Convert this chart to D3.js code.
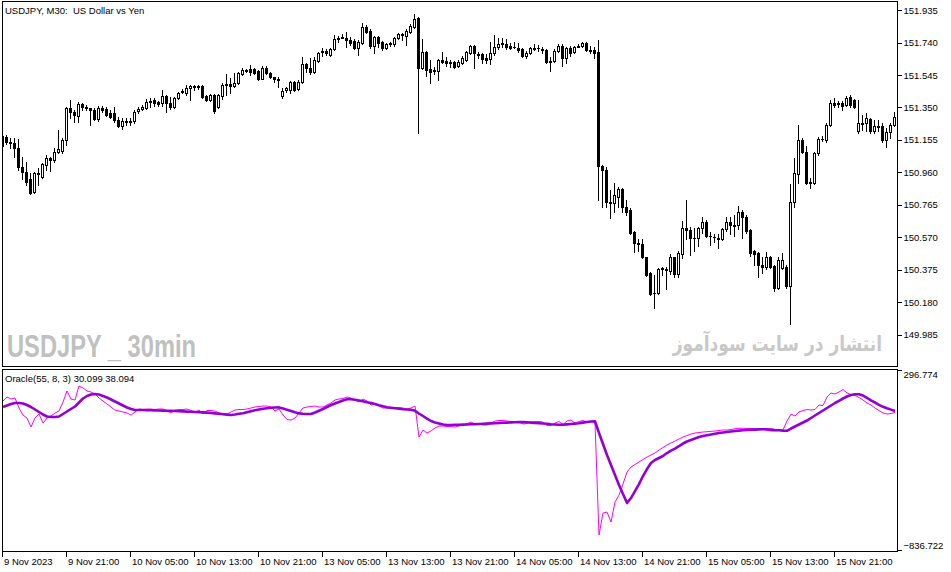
<!DOCTYPE html>
<html>
<head>
<meta charset="utf-8">
<script src="https://cdn.jsdelivr.net/npm/d3@7/dist/d3.min.js"></script>
<style>
html, body { margin: 0; padding: 0; background: #fff; }
svg { display: block; }
text { font-family: Tahoma, "Liberation Sans", Arial, sans-serif; font-size: 9.5px; fill: #000; }
</style>
</head>
<body>
<svg id="chart" width="951" height="572"></svg>
<script>
// USDJPY M30 candles (bar 0 = 9 Nov 13:00)
const opens = [
	151.176,151.170,151.140,151.134,151.104,150.990,150.960,150.923,150.839,150.954,
	150.935,151.002,151.044,151.032,151.080,151.086,151.152,151.345,151.321,151.297,
	151.369,151.351,151.345,151.333,151.279,151.345,151.339,151.315,151.315,151.273,
	151.236,151.261,151.267,151.267,151.327,151.339,151.345,151.387,151.393,151.381,
	151.375,151.417,151.375,151.351,151.405,151.441,151.435,151.465,151.471,151.477,
	151.477,151.417,151.393,151.423,151.351,151.417,151.483,151.489,151.477,151.495,
	151.550,151.568,151.580,151.580,151.568,151.519,151.586,151.556,151.531,151.519,
	151.417,151.453,151.453,151.501,151.459,151.501,151.610,151.586,151.562,151.628,
	151.682,151.688,151.664,151.700,151.760,151.772,151.766,151.754,151.748,151.706,
	151.736,151.832,151.808,151.718,151.772,151.742,151.706,151.730,151.730,151.766,
	151.790,151.778,151.802,151.832,151.887,151.586,151.682,151.580,151.568,151.568,
	151.634,151.628,151.622,151.622,151.598,151.616,151.634,151.676,151.718,151.670,
	151.670,151.646,151.640,151.676,151.712,151.730,151.730,151.718,151.712,151.706,
	151.700,151.658,151.676,151.706,151.706,151.700,151.694,151.628,151.628,151.688,
	151.718,151.646,151.706,151.682,151.718,151.718,151.736,151.694,151.694,151.682,
	150.996,150.972,150.779,150.773,150.809,150.857,150.749,150.731,150.604,150.538,
	150.532,150.448,150.352,150.237,150.237,150.382,150.376,150.364,150.448,150.346,
	150.472,150.628,150.616,150.568,150.568,150.628,150.659,150.580,150.574,150.568,
	150.562,150.622,150.659,150.641,150.641,150.719,150.689,150.616,150.490,150.478,
	150.400,150.388,150.454,150.394,150.267,150.382,150.388,150.279,150.779,150.948,
	151.152,151.080,150.899,150.893,151.074,151.158,151.152,151.243,151.375,151.369,
	151.375,151.363,151.411,151.393,151.206,151.255,151.255,151.279,151.206,151.236,
	151.236,151.152,151.200,151.243
];
const highs = [
	151.188,151.182,151.164,151.164,151.158,151.050,151.020,150.954,150.960,150.984,
	151.014,151.062,151.050,151.104,151.212,151.164,151.351,151.393,151.333,151.381,
	151.375,151.363,151.345,151.345,151.357,151.357,151.351,151.333,151.351,151.291,
	151.285,151.285,151.285,151.333,151.351,151.363,151.399,151.405,151.405,151.387,
	151.453,151.423,151.411,151.411,151.441,151.459,151.483,151.483,151.483,151.483,
	151.483,151.423,151.429,151.429,151.429,151.495,151.550,151.525,151.556,151.562,
	151.586,151.580,151.604,151.586,151.574,151.598,151.598,151.562,151.531,151.531,
	151.465,151.471,151.507,151.507,151.513,151.652,151.616,151.646,151.652,151.682,
	151.706,151.700,151.706,151.784,151.778,151.790,151.802,151.772,151.760,151.754,
	151.857,151.845,151.820,151.778,151.778,151.748,151.736,151.742,151.772,151.796,
	151.796,151.820,151.851,151.911,151.893,151.760,151.688,151.634,151.592,151.640,
	151.682,151.652,151.634,151.628,151.634,151.658,151.688,151.724,151.724,151.682,
	151.676,151.670,151.742,151.784,151.766,151.766,151.760,151.736,151.742,151.736,
	151.706,151.688,151.712,151.730,151.724,151.712,151.700,151.652,151.700,151.730,
	151.730,151.712,151.718,151.718,151.730,151.742,151.742,151.718,151.712,151.754,
	151.002,150.990,150.851,150.893,150.869,150.863,150.791,150.743,150.610,150.562,
	150.562,150.454,150.358,150.340,150.382,150.388,150.388,150.472,150.454,150.490,
	150.665,150.791,150.634,150.628,150.634,150.689,150.671,150.604,150.592,150.592,
	150.628,150.689,150.689,150.701,150.755,150.731,150.701,150.622,150.496,150.484,
	150.454,150.484,150.460,150.400,150.454,150.478,150.400,150.887,151.044,151.243,
	151.164,151.116,150.929,151.080,151.170,151.176,151.255,151.393,151.405,151.387,
	151.387,151.417,151.423,151.399,151.393,151.303,151.315,151.285,151.273,151.273,
	151.255,151.224,151.255,151.321
];
const lows = [
	151.110,151.128,151.104,151.050,150.972,150.923,150.881,150.827,150.833,150.881,
	150.929,150.972,150.966,151.020,151.074,151.074,151.122,151.285,151.261,151.261,
	151.333,151.333,151.243,151.273,151.267,151.321,151.297,151.285,151.261,151.230,
	151.218,151.243,151.243,151.255,151.315,151.333,151.339,151.351,151.357,151.357,
	151.357,151.321,151.339,151.345,151.399,151.435,151.423,151.393,151.453,151.459,
	151.405,151.387,151.387,151.315,151.345,151.399,151.423,151.435,151.471,151.489,
	151.543,151.562,151.543,151.550,151.513,151.519,151.550,151.525,151.501,151.471,
	151.405,151.441,151.435,151.447,151.453,151.495,151.562,151.550,151.556,151.622,
	151.658,151.664,151.658,151.694,151.742,151.766,151.712,151.724,151.700,151.664,
	151.730,151.796,151.706,151.676,151.712,151.694,151.700,151.718,151.718,151.760,
	151.754,151.724,151.796,151.826,151.194,151.580,151.537,151.495,151.550,151.513,
	151.616,151.598,151.592,151.586,151.592,151.610,151.628,151.670,151.586,151.646,
	151.616,151.616,151.610,151.664,151.700,151.712,151.700,151.700,151.706,151.682,
	151.652,151.646,151.670,151.694,151.688,151.676,151.616,151.568,151.622,151.682,
	151.598,151.616,151.658,151.676,151.712,151.712,151.688,151.676,151.646,150.791,
	150.749,150.749,150.683,150.719,150.749,150.719,150.701,150.592,150.484,150.490,
	150.442,150.334,150.225,150.147,150.231,150.340,150.261,150.346,150.328,150.328,
	150.442,150.562,150.466,150.490,150.520,150.598,150.574,150.526,150.544,150.508,
	150.556,150.610,150.592,150.580,150.622,150.568,150.598,150.460,150.400,150.328,
	150.352,150.376,150.382,150.249,150.261,150.376,150.267,150.051,150.749,150.893,
	151.074,150.887,150.863,150.887,151.062,151.146,151.140,151.236,151.351,151.351,
	151.333,151.357,151.351,151.345,151.194,151.212,151.206,151.194,151.194,151.206,
	151.140,151.110,151.164,151.236
];
const closes = [
	151.116,151.140,151.134,151.104,150.990,150.960,150.899,150.833,150.954,150.948,
	151.008,151.044,151.032,151.080,151.098,151.152,151.345,151.321,151.303,151.369,
	151.351,151.345,151.333,151.279,151.345,151.333,151.303,151.291,151.273,151.236,
	151.267,151.267,151.261,151.321,151.339,151.351,151.381,151.381,151.375,151.369,
	151.417,151.375,151.351,151.405,151.435,151.447,151.465,151.477,151.477,151.475,
	151.411,151.393,151.423,151.327,151.423,151.483,151.489,151.477,151.495,151.556,
	151.574,151.574,151.562,151.556,151.519,151.586,151.556,151.531,151.519,151.517,
	151.447,151.465,151.501,151.453,151.501,151.610,151.586,151.562,151.634,151.676,
	151.688,151.676,151.700,151.760,151.766,151.770,151.754,151.736,151.706,151.742,
	151.832,151.802,151.718,151.772,151.736,151.706,151.730,151.736,151.766,151.790,
	151.788,151.808,151.838,151.881,151.586,151.682,151.574,151.562,151.574,151.634,
	151.622,151.616,151.620,151.592,151.622,151.646,151.682,151.718,151.676,151.668,
	151.640,151.638,151.676,151.712,151.730,151.736,151.712,151.710,151.714,151.694,
	151.658,151.676,151.706,151.704,151.708,151.698,151.622,151.626,151.688,151.718,
	151.646,151.706,151.676,151.712,151.716,151.736,151.694,151.692,151.676,150.996,
	150.972,150.779,150.777,150.821,150.857,150.749,150.719,150.598,150.538,150.532,
	150.448,150.340,150.231,150.235,150.376,150.380,150.374,150.448,150.346,150.478,
	150.628,150.616,150.568,150.566,150.628,150.659,150.580,150.578,150.572,150.562,
	150.622,150.659,150.641,150.639,150.719,150.689,150.610,150.478,150.472,150.400,
	150.388,150.454,150.388,150.267,150.430,150.430,150.279,150.779,150.954,151.152,
	151.080,150.893,150.897,151.074,151.158,151.160,151.243,151.375,151.363,151.375,
	151.357,151.409,151.363,151.351,151.255,151.253,151.285,151.206,151.236,151.234,
	151.152,151.200,151.243,151.291
];

// Oracle(55, 8, 3): thin magenta line and thick signal line
const oracleLine = [
	101.5,126.7,114.1,120.4,57.4,13.3,-5.6,-62.3,-5.6,19.6,
	-37.1,-5.6,7.0,25.9,38.5,95.2,164.5,114.1,107.8,196.0,
	183.4,164.5,158.2,145.6,120.4,101.5,82.6,63.7,44.8,38.5,
	32.2,25.9,13.3,32.2,51.1,48.0,51.1,51.1,48.0,51.1,
	51.1,38.5,25.9,44.8,48.0,48.0,51.1,41.7,32.2,44.8,
	19.6,41.7,41.7,38.5,25.9,22.8,19.6,32.2,44.8,48.0,
	48.0,51.1,57.4,63.7,66.9,70.0,70.0,63.7,38.5,51.1,
	13.3,-15.1,-18.2,-5.6,25.9,57.4,63.7,66.9,70.0,63.7,
	63.7,76.3,88.9,107.8,114.1,117.3,126.7,120.4,107.8,95.2,
	114.1,101.5,76.3,82.6,70.0,57.4,57.4,54.3,57.4,60.6,
	57.4,51.1,57.4,70.0,-125.3,-81.2,-100.1,-87.5,-68.6,-56.0,
	-56.0,-59.2,-59.2,-62.3,-56.0,-49.7,-40.3,-30.8,-43.4,-43.4,
	-49.7,-49.7,-37.1,-24.5,-21.4,-21.4,-24.5,-27.7,-27.7,-30.8,
	-43.4,-40.3,-30.8,-27.7,-27.7,-30.8,-52.9,-52.9,-37.1,-27.7,
	-46.6,-24.5,-18.2,-37.1,-27.7,-21.4,-30.8,-27.7,-30.8,-742.7,
	-604.1,-597.8,-660.8,-534.8,-490.7,-421.4,-345.8,-314.3,-298.6,-282.8,
	-267.1,-251.3,-238.7,-226.1,-207.2,-191.5,-175.7,-163.1,-150.5,-137.9,
	-125.3,-115.9,-106.4,-100.1,-97.0,-93.8,-91.9,-89.4,-87.5,-84.4,
	-81.2,-81.2,-78.1,-73.0,-70.5,-70.5,-71.8,-71.8,-73.0,-74.9,
	-76.8,-84.4,-87.5,-87.5,-84.4,-81.2,-24.5,19.6,7.0,32.2,
	41.7,48.0,44.8,48.0,76.3,73.2,126.7,151.9,145.6,158.2,
	173.9,151.9,142.4,137.4,123.6,107.8,88.9,76.3,57.4,41.7,
	25.9,19.6,22.8,30.099
];
const signalLine = [
	63.7,73.2,82.6,88.9,88.9,85.8,76.3,63.7,48.0,32.2,
	16.5,3.9,0.7,0.7,3.9,19.6,35.4,51.1,66.9,92.1,
	117.3,133.0,142.4,145.6,142.4,133.0,123.6,111.0,98.4,85.8,
	73.2,60.6,51.1,44.8,44.8,44.6,43.5,42.9,42.3,41.7,
	41.0,40.4,39.8,38.5,37.2,36.0,34.7,33.5,32.2,30.9,
	29.7,28.4,25.9,23.4,20.9,18.3,15.8,13.3,16.5,20.9,
	24.0,30.9,37.2,42.9,48.0,52.4,56.1,58.7,60.6,61.2,
	54.3,46.7,38.5,30.3,23.4,20.9,19.6,19.6,29.1,39.8,
	51.1,63.7,76.3,85.8,95.2,104.7,112.2,112.2,109.0,104.7,
	99.6,93.3,88.9,82.6,75.0,68.1,62.4,58.7,55.5,52.4,
	49.8,48.0,46.1,39.8,22.8,7.0,-8.8,-24.5,-34.0,-40.3,
	-46.6,-49.7,-49.7,-48.4,-47.8,-47.2,-46.6,-45.3,-44.7,-43.4,
	-42.1,-40.9,-39.6,-38.4,-37.1,-35.8,-34.6,-33.3,-32.1,-30.8,
	-31.4,-32.7,-34.6,-36.5,-38.4,-40.3,-42.1,-44.7,-46.6,-48.4,
	-48.4,-45.9,-43.4,-40.9,-38.4,-34.6,-30.8,-27.7,-25.8,-100.1,
	-169.4,-238.7,-301.7,-364.7,-427.7,-484.4,-541.1,-509.6,-465.5,-421.4,
	-371.0,-326.9,-289.1,-270.2,-257.6,-245.0,-226.1,-210.4,-197.8,-182.0,
	-166.3,-153.7,-144.2,-134.8,-125.3,-119.0,-114.0,-109.6,-105.1,-100.1,
	-97.0,-93.8,-90.7,-87.5,-85.0,-83.1,-81.2,-79.9,-78.7,-77.4,
	-76.2,-76.8,-78.7,-81.2,-83.1,-85.0,-86.2,-71.8,-59.2,-46.6,
	-34.0,-21.4,-5.6,10.2,25.9,41.7,57.4,73.2,88.9,102.8,
	117.3,129.9,139.3,143.7,144.3,136.1,121.7,105.9,92.1,77.6,
	65.0,55.5,47.3,38.094
];

const priceTicks = [151.935, 151.740, 151.545, 151.350, 151.155, 150.960, 150.765, 150.570, 150.375, 150.180, 149.985];
const oracleTicks = [296.774, -836.722];
const timeTickBars = [0, 16, 32, 48, 64, 80, 96, 112, 128, 144, 160, 176, 192, 208];
const timeLabels = ["9 Nov 2023", "9 Nov 21:00", "10 Nov 05:00", "10 Nov 13:00", "10 Nov 21:00", "13 Nov 05:00", "13 Nov 13:00",
	"13 Nov 21:00", "14 Nov 05:00", "14 Nov 13:00", "14 Nov 21:00", "15 Nov 05:00", "15 Nov 13:00", "15 Nov 21:00"];

var svg = d3.select("#chart");

var left = 2.5, right = 897.5;
var mainTop = 1.5, mainBottom = 366.5;
var indTop = 369.5, indBottom = 551.5;

var x = d3.scaleLinear().domain([0, closes.length - 1]).range([2.5, 894.5]);
var yPrice = d3.scaleLinear().domain([149.985, 151.935]).range([334.5, 10.2]);
var yOracle = d3.scaleLinear().domain([-836.722, 296.774]).range([550, 370]);

svg.append("rect").attr("width", 951).attr("height", 572).attr("fill", "#fff");

var defs = svg.append("defs");
defs.append("clipPath").attr("id", "clipMain")
	.append("rect").attr("x", 3).attr("y", 2).attr("width", right - 3.5).attr("height", mainBottom - 2.5);
defs.append("clipPath").attr("id", "clipInd")
	.append("rect").attr("x", 3).attr("y", indTop + 0.5).attr("width", right - 3.5).attr("height", indBottom - indTop - 1);

function drawCandles () {
	var g = svg.append("g")
		.attr("clip-path", "url(#clipMain)")
		.attr("shape-rendering", "crispEdges");

	closes.forEach(function (c, i) {
		var o = opens[i];
		var px = Math.floor(x(i));
		var yH = Math.round(yPrice(highs[i]));
		var yL = Math.round(yPrice(lows[i]));
		var yT = Math.round(yPrice(Math.max(o, c)));
		var yB = Math.round(yPrice(Math.min(o, c)));

		// wick
		g.append("rect")
			.attr("x", px).attr("y", yH)
			.attr("width", 1).attr("height", yL - yH + 1)
			.attr("fill", "#000");

		// body: black when falling (or flat), hollow when rising
		if (c < o || yB - yT < 2) {
			g.append("rect")
				.attr("x", px - 1).attr("y", yT)
				.attr("width", 3).attr("height", yB - yT + 1)
				.attr("fill", "#000");
		} else {
			g.append("rect")
				.attr("x", px - 0.5).attr("y", yT + 0.5)
				.attr("width", 2).attr("height", yB - yT)
				.attr("fill", "#fff")
				.attr("stroke", "#000")
				.attr("stroke-width", 1);
		}
	});
}

function drawOracle () {
	var g = svg.append("g").attr("clip-path", "url(#clipInd)");
	var line = d3.line()
		.x(function (d, i) { return x(i) + 0.5; })
		.y(function (d) { return yOracle(d); });

	g.append("path")
		.datum(oracleLine)
		.attr("fill", "none")
		.attr("stroke", "#ff00ff")
		.attr("stroke-width", 1)
		.attr("d", line);

	g.append("path")
		.datum(signalLine)
		.attr("fill", "none")
		.attr("stroke", "#9400d3")
		.attr("stroke-width", 2.6)
		.attr("stroke-linejoin", "round")
		.attr("d", line);
}

function drawFrames () {
	var g = svg.append("g")
		.attr("fill", "none")
		.attr("stroke", "#000")
		.attr("stroke-width", 1)
		.attr("shape-rendering", "crispEdges");
	g.append("path").attr("d", "M" + left + "," + mainTop + "H" + right + "V" + mainBottom + "H" + left + "Z");
	g.append("path").attr("d", "M" + left + "," + indTop + "H" + right + "V" + indBottom + "H" + left + "Z");
}

function drawAxes () {
	var priceAxis = svg.append("g")
		.attr("transform", "translate(" + right + ",0)")
		.call(d3.axisRight(yPrice).tickValues(priceTicks).tickFormat(d3.format(".3f")).tickSize(4).tickPadding(2));

	var oracleAxis = svg.append("g")
		.attr("transform", "translate(" + right + ",0)")
		.call(d3.axisRight(yOracle).tickValues(oracleTicks).tickFormat(d3.format(".3f")).tickSize(4).tickPadding(2));
	oracleAxis.selectAll(".tick text")
		.attr("dy", function (d) { return d > 0 ? "7px" : "-2px"; });

	var timeAxis = svg.append("g")
		.attr("transform", "translate(0," + indBottom + ")")
		.call(d3.axisBottom(x).tickValues(timeTickBars).tickFormat(function (d, i) { return timeLabels[i]; }).tickSize(5));
	timeAxis.selectAll(".tick line").attr("transform", "translate(-0.5,0)");
	timeAxis.selectAll(".tick text")
		.attr("text-anchor", "start")
		.attr("x", 1)
		.attr("y", 13)
		.attr("dy", 0);

	[priceAxis, oracleAxis, timeAxis].forEach(function (a) {
		a.select(".domain").remove();
		a.attr("font-family", null).attr("font-size", null);
		a.selectAll(".tick line").attr("stroke", "#000").attr("shape-rendering", "crispEdges");
		a.selectAll(".tick text").attr("fill", "#000");
	});
}

function drawTexts () {
	svg.append("text")
		.attr("x", 5).attr("y", 14)
		.style("white-space", "pre")
		.text("USDJPY, M30:  US Dollar vs Yen");

	svg.append("text")
		.attr("x", 5).attr("y", 382)
		.text("Oracle(55, 8, 3) 30.099 38.094");

	svg.append("text")
		.attr("x", 7).attr("y", 357)
		.attr("textLength", 189)
		.attr("lengthAdjust", "spacingAndGlyphs")
		.style("font-family", "'Liberation Sans', Arial, sans-serif")
		.style("font-weight", "bold")
		.style("font-size", "32px")
		.style("fill", "#c0c0c0")
		.text("USDJPY _ 30min");

	// Persian watermark, natural width kept near the reference's 200px
	svg.append("text")
		.attr("transform", "translate(882,351) scale(1,1.25)")
		.attr("text-anchor", "end")
		.style("font-family", "'DejaVu Sans', sans-serif")
		.style("font-weight", "bold")
		.style("font-size", "17px")
		.style("fill", "#c8c8c8")
		.text("انتشار در سایت سودآموز");
}

drawTexts();
drawCandles();
drawOracle();
drawFrames();
drawAxes();
</script>
</body>
</html>
